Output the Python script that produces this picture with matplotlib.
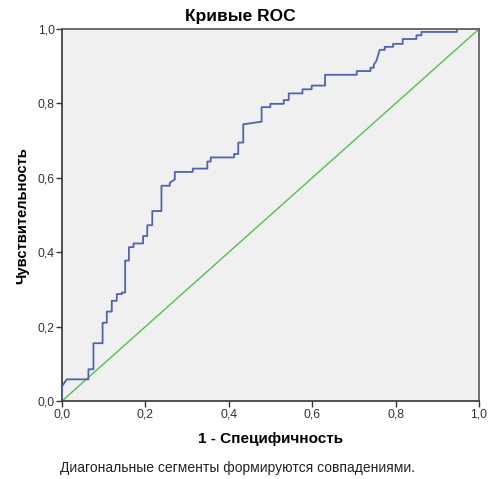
import matplotlib
matplotlib.use("Agg")
import matplotlib.pyplot as plt
from matplotlib.ticker import FuncFormatter

plt.rcParams['font.family'] = ['Liberation Sans', 'DejaVu Sans']

# ROC curve vertices (1 - specificity, sensitivity)
fpr = [0.0, 0.0, 0.012, 0.064, 0.064, 0.076, 0.076, 0.098, 0.098, 0.108,
       0.108, 0.120, 0.120, 0.132, 0.132, 0.144, 0.144, 0.152, 0.152, 0.161,
       0.161, 0.172, 0.172, 0.195, 0.195, 0.205, 0.205, 0.217, 0.217, 0.239,
       0.239, 0.259, 0.259, 0.271, 0.271, 0.314, 0.314, 0.349, 0.349, 0.357,
       0.357, 0.413, 0.413, 0.423, 0.423, 0.435, 0.435, 0.479, 0.479, 0.500,
       0.500, 0.532, 0.532, 0.544, 0.544, 0.577, 0.577, 0.599, 0.599, 0.631,
       0.631, 0.707, 0.707, 0.740, 0.740, 0.748, 0.748, 0.754, 0.762, 0.774,
       0.774, 0.794, 0.794, 0.817, 0.817, 0.850, 0.850, 0.862, 0.862, 0.947,
       0.947, 1.0]
tpr = [0.0, 0.039, 0.059, 0.059, 0.086, 0.086, 0.156, 0.156, 0.211, 0.211,
       0.241, 0.241, 0.270, 0.270, 0.288, 0.288, 0.292, 0.292, 0.378, 0.378,
       0.414, 0.414, 0.424, 0.424, 0.444, 0.444, 0.473, 0.473, 0.511, 0.511,
       0.579, 0.579, 0.587, 0.596, 0.616, 0.616, 0.625, 0.625, 0.644, 0.644,
       0.655, 0.655, 0.664, 0.664, 0.695, 0.695, 0.744, 0.751, 0.790, 0.790,
       0.799, 0.799, 0.809, 0.809, 0.827, 0.827, 0.838, 0.838, 0.848, 0.848,
       0.877, 0.877, 0.887, 0.887, 0.896, 0.896, 0.905, 0.914, 0.944, 0.944,
       0.952, 0.952, 0.960, 0.960, 0.973, 0.973, 0.983, 0.983, 0.992, 0.992,
       1.0, 1.0]

ref_line = [0.0, 1.0]
ticks = [0.0, 0.2, 0.4, 0.6, 0.8, 1.0]

fig = plt.figure(figsize=(4.89, 4.79), dpi=100)
ax = fig.add_axes([0.1262, 0.1622, 0.8534, 0.7773])
ax.set_facecolor('#f0f0f0')

ax.plot(ref_line, ref_line, color='#4fc24f', lw=1.0, zorder=2)
ax.plot(fpr, tpr, color='#4f63b0', lw=1.3, zorder=3)

ax.set_xlim(0, 1)
ax.set_ylim(0, 1)
ax.set_xticks(ticks)
ax.set_yticks(ticks)
comma = FuncFormatter(lambda v, p: f"{v:.1f}".replace('.', ','))
ax.xaxis.set_major_formatter(comma)
ax.yaxis.set_major_formatter(comma)
ax.tick_params(direction='out', length=4.5, width=1, labelsize=8.8,
               colors='#333333', pad=0.5)

for side in ['left', 'bottom']:
    ax.spines[side].set_color('#333333')
    ax.spines[side].set_linewidth(1.2)
for side in ['top', 'right']:
    ax.spines[side].set_color('#555555')
    ax.spines[side].set_linewidth(1.2)

fig.text(240 / 489, 1 - 16 / 479, 'Кривые ROC', fontsize=12.5,
         fontweight='bold', ha='center', va='center')
ax.set_xlabel('1 - Специфичность', fontsize=11, fontweight='bold', labelpad=8.5)
ax.set_ylabel('Чувствительность', fontsize=10.6, fontweight='bold', labelpad=6)

fig.text(60 / 489, 1 - 468 / 479, 'Диагональные сегменты формируются совпадениями.',
         fontsize=10, ha='left', va='center', color='#222222')

fig.savefig('out.png', dpi=100)
